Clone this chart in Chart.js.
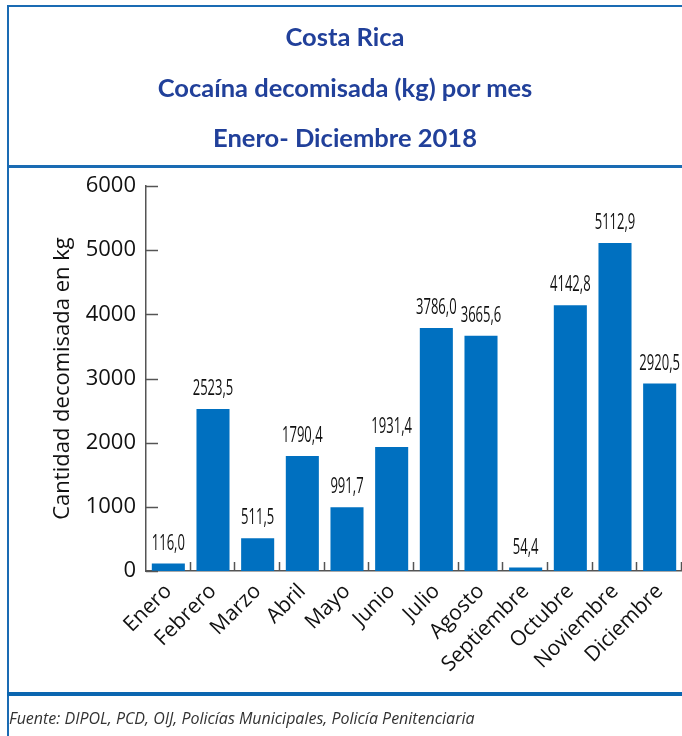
<!DOCTYPE html>
<html>
<head>
<meta charset="utf-8">
<script src="https://cdn.jsdelivr.net/npm/chart.js@4"></script>
<style>
  body { margin: 0; background: #fff; }
  #wrap { position: relative; width: 682px; height: 736px; overflow: hidden; }
  #chart { position: absolute; left: 0; top: 0; }
  .line { position: absolute; background: #1a6bb3; }
  .title {
    position: absolute; left: 8px; width: 674px; text-align: center;
    font-family: Lato, sans-serif; font-weight: bold; font-size: 25.5px; color: #21409a;
    line-height: 30px;
  }
  #source {
    position: absolute; left: 9px; top: 707px;
    font-family: "Open Sans", sans-serif; font-style: italic; font-size: 16px; color: #333;
  }
</style>
</head>
<body>
<div id="wrap">
  <canvas id="chart" width="682" height="736"></canvas>
  <div class="line" style="left:7px; top:5px; width:675px; height:2px;"></div>
  <div class="line" style="left:7px; top:5px; width:2px; height:731px;"></div>
  <div class="line" style="left:7px; top:165px; width:675px; height:3px;"></div>
  <div class="line" style="left:7px; top:692px; width:675px; height:4px; background:#0b66b0;"></div>
  <div class="title" style="top:21px;">Costa Rica</div>
  <div class="title" style="top:72px;">Cocaína decomisada (kg) por mes</div>
  <div class="title" style="top:122px;">Enero- Diciembre 2018</div>
  <div id="source">Fuente: DIPOL, PCD, OIJ, Policías Municipales, Policía Penitenciaria</div>
</div>
<script>
/* Months and cocaine seized per month (kg). */
const months = ["Enero", "Febrero", "Marzo", "Abril", "Mayo", "Junio",
  "Julio", "Agosto", "Septiembre", "Octubre", "Noviembre", "Diciembre"]
const seizedKg = [116.0, 2523.5, 511.5, 1790.4, 991.7, 1931.4,
  3786.0, 3665.6, 54.4, 4142.8, 5112.9, 2920.5]

/* Y axis range and step. */
const yMin = 0
const yMax = 6000
const yStep = 1000

const axisColor = "#555"

/* Draw small inner tick marks and the value labels over the bars. */
const marksPlugin = {
  id: "marks",
  afterDatasetsDraw: (chart) => {
    const ctx = chart.ctx
    const x = chart.scales.x
    const y = chart.scales.y
    const area = chart.chartArea

    ctx.save()
    ctx.strokeStyle = axisColor
    ctx.lineWidth = 1.5
    y.ticks.forEach(t => {
      const py = Math.round(y.getPixelForValue(t.value)) + 0.5
      ctx.beginPath()
      ctx.moveTo(area.left, py)
      ctx.lineTo(area.left + 12, py)
      ctx.stroke()
    })
    const half = (x.getPixelForValue(1) - x.getPixelForValue(0)) / 2
    months.forEach((m, i) => {
      const px = Math.round(x.getPixelForValue(i) + half) - 0.5
      ctx.beginPath()
      ctx.moveTo(px, area.bottom)
      ctx.lineTo(px, area.bottom - 9)
      ctx.stroke()
    })

    /* Value labels, condensed. */
    ctx.fillStyle = "#111"
    ctx.font = "500 21px 'Open Sans'"
    ctx.textAlign = "center"
    ctx.textBaseline = "alphabetic"
    const squeeze = 0.62
    chart.getDatasetMeta(0).data.forEach((bar, i) => {
      const text = seizedKg[i].toFixed(1).replace(".", ",")
      ctx.save()
      ctx.translate(bar.x, bar.y - 14)
      ctx.scale(squeeze, 1)
      ctx.fillText(text, 0, 0)
      ctx.restore()
    })
    ctx.restore()
  }
}

const ctx = document.getElementById("chart").getContext("2d")
const chart = new Chart(ctx, {
  type: "bar",
  data: {
    labels: months,
    datasets: [{
      data: seizedKg,
      backgroundColor: "#0070c0",
      borderWidth: 0,
      barPercentage: 0.74,
      categoryPercentage: 1
    }]
  },
  options: {
    responsive: false,
    animation: false,
    layout: {
      padding: { top: 186, left: 0, right: 0, bottom: 0 }
    },
    plugins: {
      legend: { display: false },
      tooltip: { enabled: false }
    },
    scales: {
      x: {
        offset: true,
        grid: { display: false },
        border: { display: true, color: axisColor, width: 1.5 },
        ticks: {
          autoSkip: false,
          minRotation: 45,
          maxRotation: 45,
          padding: 0,
          color: "#111",
          font: { family: "'Open Sans'", size: 21 }
        },
        afterFit: (scale) => { scale.height = 165 }
      },
      y: {
        min: yMin,
        max: yMax,
        grid: { display: false, drawTicks: false },
        border: { display: true, color: axisColor, width: 1.5 },
        ticks: {
          stepSize: yStep,
          padding: 10,
          color: "#111",
          font: { family: "'Open Sans'", size: 22 },
          callback: (value) => String(value)
        },
        title: {
          display: true,
          text: "Cantidad decomisada en kg",
          color: "#111",
          font: { family: "'Open Sans'", size: 22 },
          padding: { top: 50, bottom: 0 }
        },
        afterFit: (scale) => { scale.width = 146 }
      }
    }
  },
  plugins: [marksPlugin]
})
</script>
</body>
</html>
